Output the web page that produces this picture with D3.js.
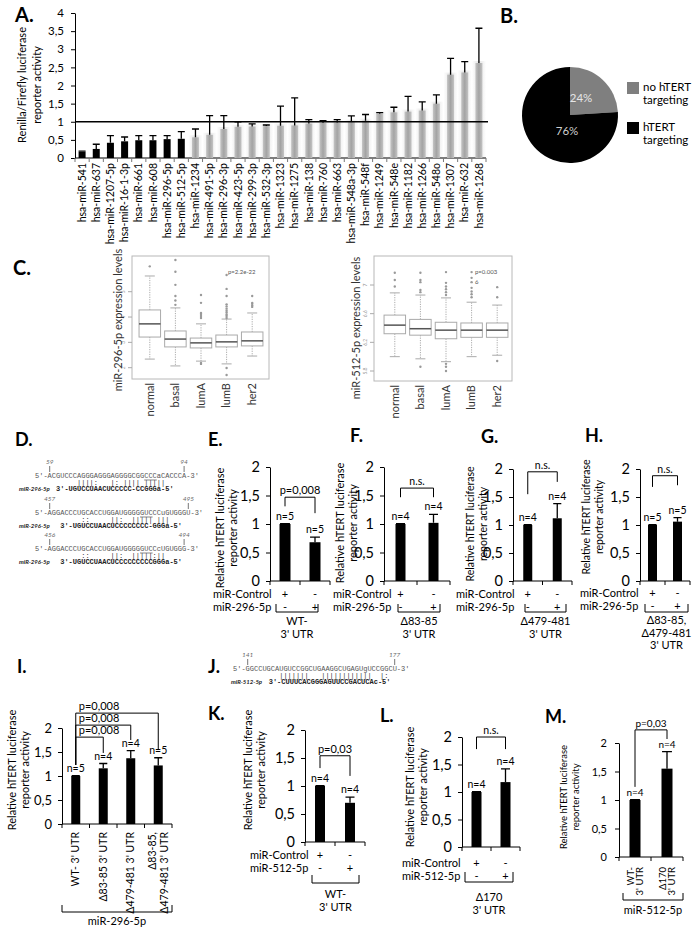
<!DOCTYPE html>
<html>
<head>
<meta charset="utf-8">
<script src="https://cdn.jsdelivr.net/npm/d3@7"></script>
<style>
  body { margin: 0; background: #fff; overflow: hidden; }
  svg { display: block; }
</style>
</head>
<body>
<svg id="fig" width="700" height="927"></svg>
<script>
// ---------- data ----------
const mirNames = ["hsa-miR-541", "hsa-miR-637", "hsa-miR-1207-5p", "hsa-miR-16-1-3p", "hsa-miR-661", "hsa-miR-608",
  "hsa-miR-296-5p", "hsa-miR-512-5p", "hsa-miR-1234", "hsa-miR-491-5p", "hsa-miR-296-3p", "hsa-miR-423-5p",
  "hsa-miR-299-3p", "hsa-miR-532-3p", "hsa-miR-1323", "hsa-miR-1275", "hsa-miR-138", "hsa-miR-760", "hsa-miR-663",
  "hsa-miR-548a-3p", "hsa-miR-548f", "hsa-miR-1249", "hsa-miR-548e", "hsa-miR-1182", "hsa-miR-1266",
  "hsa-miR-548o", "hsa-miR-1307", "hsa-miR-632", "hsa-miR-1268"];
const mirActivity = [0.17, 0.25, 0.42, 0.46, 0.49, 0.49, 0.52, 0.53, 0.57, 0.64, 0.8, 0.86, 0.87, 0.88, 0.89, 0.9,
  0.95, 0.97, 0.98, 1.0, 1.03, 1.22, 1.26, 1.28, 1.31, 1.5, 2.3, 2.36, 2.62];
const mirError = [0.02, 0.13, 0.2, 0.12, 0.13, 0.13, 0.1, 0.2, 0.23, 0.53, 0.37, 0.14, 0.07, 0.03, 0.54, 0.76,
  0.11, 0.06, 0.08, 0.16, 0.17, 0.03, 0.14, 0.42, 0.24, 0.24, 0.45, 0.3, 0.96];
const mirTargeting = ["hsa-miR-541", "hsa-miR-637", "hsa-miR-1207-5p", "hsa-miR-16-1-3p", "hsa-miR-661",
  "hsa-miR-608", "hsa-miR-296-5p", "hsa-miR-512-5p"];
const aTicks = [0, 0.5, 1, 1.5, 2, 2.5, 3, 3.5, 4];

const pieLabels = [["no hTERT", "targeting"], ["hTERT", "targeting"]];
const pieValues = [24, 76];

const subtypes = ["normal", "basal", "lumA", "lumB", "her2"];
// [lower whisker, q1, median, q3, upper whisker]
const box296 = [[2.34, 3.21, 3.73, 4.28, 5.62], [2.07, 2.82, 3.13, 3.45, 4.36], [2.26, 2.78, 2.98, 3.17, 3.73],
  [2.15, 2.82, 3.02, 3.29, 3.92], [2.46, 2.86, 3.06, 3.41, 4.16]];
const out296 = [[6.0], [4.48, 4.65, 4.83, 5.27, 5.79, 6.25], [3.96, 4.04, 4.12, 4.16, 4.56, 4.87, 2.19, 2.15],
  [3.96, 4.04, 4.1, 4.18, 4.25, 4.33, 4.42, 4.5, 4.83, 5.11, 5.66, 1.99, 1.71], [4.4, 4.46, 4.52, 4.56, 4.83]];
const ticks296 = [2, 3, 4, 5];
const box512 = [[6.0, 6.32, 6.44, 6.58, 6.89], [5.97, 6.3, 6.39, 6.52, 6.86], [5.93, 6.25, 6.37, 6.48, 6.82],
  [6.0, 6.27, 6.37, 6.47, 6.76], [6.02, 6.27, 6.37, 6.47, 6.72]];
const out512 = [[7.17, 7.07, 6.98], [7.17, 7.07, 7.04, 6.93, 6.9, 5.86], [7.18, 7.03, 6.98, 6.94, 6.9, 6.86, 5.9, 5.86, 5.8],
  [7.18, 7.1, 7.04, 6.96, 6.91, 6.87, 6.83], [6.97, 6.83, 5.94]];
const ticks512 = [5.8, 6.2, 6.6, 7.0];
const p296 = ["p=2.2e-22"];
const p512 = ["p=0.003", "6"];

const dSites = ["5'-ACGUCCCAGGGAGGGAGGGGCGGCCCaCACCCA-3'", "5'-AGGACCCUGCACCUGGAUGGGGGUCCCuGUGGGU-3'",
  "5'-AGGACCCUGCACCUGGAUGGGGGUCCcUGUGGG-3'"];
const dPairs = ["          ||||:   |: |||| |||||", "           ::     ||:  ||||| |||", "           ::     ||:  |||||:||"];
const dMirs = ["3'-UGUCCUAACUCCCCC-CCGGGa-5'", "3'-UGUCCUAACUCCCCCCCC-GGGa-5'", "3'-UGUCCUAACUCCCCCCCCCGGGa-5'"];
const dStarts = ["59", "457", "456"];
const dEnds = ["94", "495", "494"];
const jSite = "5'-GGCCUGCAUGUCCGGCUGAAGGCUGAGUgUCCGGCU-3'";
const jPairs = "           |||||||   ||||||||||||  |:";
const jMir = "3'-CUUUCACGGGAGUUCCGACUCAc-5'";
const jNums = ["141", "177"];

const yTicks = [0, 0.5, 1, 1.5, 2];
const twoConds = ["miR-Control", "miR"];
const rowControl = ["+", "-"];
const rowMir = ["-", "+"];
const eValues = [1.0, 0.68], eErrors = [0.005, 0.09], eN = ["n=5", "n=5"], eP = "p=0,008";
const fValues = [1.0, 1.02], fErrors = [0.005, 0.15], fN = ["n=4", "n=4"], fP = "n.s.";
const gValues = [1.0, 1.12], gErrors = [0.005, 0.26], gN = ["n=4", "n=4"], gP = "n.s.";
const hValues = [1.0, 1.06], hErrors = [0.005, 0.07], hN = ["n=5", "n=5"], hP = "n.s.";
const iCats = ["WT- 3' UTR", "Δ83-85 3' UTR", "Δ479-481 3' UTR", "Δ83-85,\nΔ479-481 3' UTR"];
const iValues = [1.0, 1.16, 1.37, 1.22], iErrors = [0.005, 0.1, 0.16, 0.16], iN = ["n=5", "n=4", "n=4", "n=5"];
const iP = ["p=0,008", "p=0,008", "p=0,008"];
const kValues = [1.0, 0.7], kErrors = [0.005, 0.1], kN = ["n=4", "n=4"], kP = "p=0,03";
const lValues = [1.0, 1.18], lErrors = [0.005, 0.24], lN = ["n=4", "n=4"], lP = "n.s.";
const mCats = ["WT-\n3' UTR", "Δ170\n3' UTR"];
const mValues = [1.0, 1.55], mErrors = [0.005, 0.3], mN = ["n=4", "n=4"], mP = "p=0,03";

// ---------- setup ----------
const FONT = "Lato, 'Open Sans', sans-serif";
const MONO = "'Liberation Mono', 'DejaVu Sans Mono', monospace";
const svg = d3.select("#fig").attr("font-family", FONT);
svg.append("rect").attr("width", 700).attr("height", 927).attr("fill", "#fff");
const defs = svg.append("defs");
const comma = d => String(d).replace(".", ",");

function txt(g, x, y, s, fs, o = {}) {
  return g.append("text").attr("x", x).attr("y", y).text(s)
    .attr("font-size", fs)
    .attr("text-anchor", o.anchor || "start")
    .attr("fill", o.fill || "#000")
    .attr("font-weight", o.bold ? 700 : null)
    .attr("font-style", o.italic ? "italic" : null);
}
function vtxt(g, x, y, s, fs, o = {}) {
  return g.append("text").attr("transform", `translate(${x},${y}) rotate(-90)`)
    .attr("dy", "0.35em").text(s)
    .attr("font-size", fs)
    .attr("text-anchor", o.anchor || "middle")
    .attr("fill", o.fill || "#000");
}
function letter(s, x, y, fs) {
  txt(svg, x, y, s, fs, { bold: true });
}

// ---------- A ----------
const gA = svg.append("g");
const xA = d3.scaleBand().domain(mirNames).range([75, 486]);
const yA = d3.scaleLinear().domain([0, 4]).range([158, 13]);

const shade = defs.append("linearGradient").attr("id", "shade");
shade.append("stop").attr("offset", 0).attr("stop-color", "#fff");
shade.append("stop").attr("offset", 0.5).attr("stop-color", "#e4e4e4");
shade.append("stop").attr("offset", 1).attr("stop-color", "#fff");
const grayBar = defs.append("linearGradient").attr("id", "grayBar");
grayBar.append("stop").attr("offset", 0).attr("stop-color", "#c4c4c4");
grayBar.append("stop").attr("offset", 0.5).attr("stop-color", "#a3a3a3");
grayBar.append("stop").attr("offset", 1).attr("stop-color", "#c4c4c4");

const isTarget = n => mirTargeting.includes(n);
const bwA = 7;
const cxA = n => xA(n) + xA.bandwidth() / 2;

gA.selectAll(".shade")
  .data(mirNames.filter(n => !isTarget(n)))
  .join("rect")
  .attr("x", n => xA(n))
  .attr("y", n => yA(mirActivity[mirNames.indexOf(n)]) - 2)
  .attr("width", xA.bandwidth())
  .attr("height", n => yA(0) - yA(mirActivity[mirNames.indexOf(n)]) + 2)
  .attr("fill", "url(#shade)");

gA.append("g")
  .attr("transform", "translate(75,0)")
  .call(d3.axisLeft(yA).tickValues(aTicks).tickFormat(comma).tickSize(4).tickSizeOuter(0).tickPadding(7))
  .attr("font-family", FONT).attr("font-size", 11.5)
  .call(g => g.selectAll("text").attr("fill", "#000"));

gA.append("line").attr("x1", 75).attr("x2", 486).attr("y1", yA(0)).attr("y2", yA(0)).attr("stroke", "#000");
gA.selectAll(".xt")
  .data(mirNames.map(n => xA(n)).concat([xA.range()[1]]))
  .join("line")
  .attr("x1", d => d).attr("x2", d => d).attr("y1", yA(0)).attr("y2", yA(0) + 4)
  .attr("stroke", "#777");

gA.selectAll(".bar")
  .data(mirNames)
  .join("rect")
  .attr("x", n => cxA(n) - bwA / 2)
  .attr("y", (n, i) => yA(mirActivity[i]))
  .attr("width", bwA)
  .attr("height", (n, i) => yA(0) - yA(mirActivity[i]))
  .attr("fill", n => isTarget(n) ? "#000" : "url(#grayBar)");

gA.selectAll(".err")
  .data(mirNames)
  .join("path")
  .attr("d", (n, i) => {
    const yt = yA(mirActivity[i] + mirError[i]);
    return `M${cxA(n)},${yA(mirActivity[i])}V${yt}M${cxA(n) - 3.5},${yt}H${cxA(n) + 3.5}`;
  })
  .attr("stroke", "#000").attr("stroke-width", 1.3).attr("fill", "none");

gA.append("line").attr("x1", 75).attr("x2", 488).attr("y1", yA(1)).attr("y2", yA(1))
  .attr("stroke", "#000").attr("stroke-width", 1.3);

gA.selectAll(".lab")
  .data(mirNames)
  .join("text")
  .attr("transform", n => `translate(${cxA(n)},163) rotate(-90)`)
  .attr("dy", "0.35em")
  .attr("text-anchor", "end")
  .attr("font-size", 10.5)
  .text(n => n);

vtxt(gA, 22, 85, "Renilla/Firefly  luciferase", 11);
vtxt(gA, 37, 85, "reporter activity", 11);
letter("A.", 15, 22, 20);

// ---------- B ----------
const gB = svg.append("g").attr("transform", "translate(570,115)");
const pie = d3.pie().sort(null)(pieValues);
const arc = d3.arc().innerRadius(0).outerRadius(48);
const pieColors = ["#7f7f7f", "#000"];
gB.selectAll("path").data(pie).join("path").attr("d", arc).attr("fill", (d, i) => pieColors[i]);
const pieText = [[11, -13], [-3, 20]];
gB.selectAll(".pt").data(pie).join("text")
  .attr("x", (d, i) => pieText[i][0]).attr("y", (d, i) => pieText[i][1])
  .attr("text-anchor", "middle").attr("font-size", 11.5)
  .attr("fill", (d, i) => i === 0 ? "#e6e6e6" : "#cfcfcf")
  .text(d => d.data + "%");
pieLabels.forEach((lines, i) => {
  const y0 = 82 + i * 40;
  svg.append("rect").attr("x", 627).attr("y", y0).attr("width", 12).attr("height", 12).attr("fill", pieColors[i]);
  lines.forEach((l, j) => txt(svg, 643, y0 + 9 + j * 13, l, 11.5));
});
letter("B.", 500, 23, 20);

// ---------- C ----------
function boxPanel(cfg, stats, outs, ticks, pText) {
  const g = svg.append("g");
  const x = d3.scaleBand().domain(subtypes).range(cfg.xr);
  const y = d3.scaleLinear().domain([ticks[0], ticks[ticks.length - 1]]).range(cfg.yr);
  g.append("rect").attr("x", cfg.frame[0]).attr("y", cfg.frame[1])
    .attr("width", cfg.frame[2] - cfg.frame[0]).attr("height", cfg.frame[3] - cfg.frame[1])
    .attr("fill", "none").attr("stroke", "#b8b8b8");
  g.selectAll(".tk").data(ticks).join("line")
    .attr("x1", cfg.frame[0] - 4).attr("x2", cfg.frame[0]).attr("y1", d => y(d)).attr("y2", d => y(d))
    .attr("stroke", "#aaa");
  g.selectAll(".tl").data(ticks).join("text")
    .attr("transform", d => `translate(${cfg.frame[0] - 7},${y(d)}) rotate(-90)`)
    .attr("text-anchor", "middle").attr("font-size", 5).attr("fill", "#999")
    .text(d => String(d));
  const bw = x.bandwidth() * 0.84;
  subtypes.forEach((s, i) => {
    const cx = x(s) + x.bandwidth() / 2;
    const [lo, q1, md, q3, hi] = stats[i];
    g.append("path").attr("d", `M${cx},${y(q3)}V${y(hi)}M${cx},${y(q1)}V${y(lo)}`)
      .attr("stroke", "#aaa").attr("stroke-dasharray", "1.2,1.2").attr("fill", "none");
    g.append("path").attr("d", `M${cx - 5},${y(hi)}H${cx + 5}M${cx - 5},${y(lo)}H${cx + 5}`)
      .attr("stroke", "#aaa").attr("fill", "none");
    g.append("rect").attr("x", cx - bw / 2).attr("y", y(q3)).attr("width", bw).attr("height", y(q1) - y(q3))
      .attr("fill", "#fff").attr("stroke", "#aaa");
    g.append("line").attr("x1", cx - bw / 2).attr("x2", cx + bw / 2).attr("y1", y(md)).attr("y2", y(md))
      .attr("stroke", "#555").attr("stroke-width", 1.5);
    g.selectAll(null).data(outs[i]).join("circle")
      .attr("cx", cx).attr("cy", d => y(d)).attr("r", 1.2).attr("fill", "#999");
    g.append("text").attr("transform", `translate(${cx},${cfg.frame[3] + 4}) rotate(-90)`)
      .attr("dy", "0.35em").attr("text-anchor", "end").attr("font-size", 11).attr("fill", "#333").text(s);
  });
  pText.forEach((t, j) => txt(g, cfg.pX, 274 + j * 10, t, 6, { fill: "#555" }));
  vtxt(g, cfg.labX, cfg.labY, cfg.label, 11, { fill: "#333" });
}
boxPanel({ xr: [137, 265], yr: [367.7, 291.7], frame: [132, 256, 269, 379], pX: 228, labX: 118, labY: 320,
  label: "miR-296-5p expression levels" }, box296, out296, ticks296, p296);
boxPanel({ xr: [382, 510], yr: [371, 285], frame: [374, 256, 512, 381], pX: 475, labX: 356, labY: 328,
  label: "miR-512-5p expression levels" }, box512, out512, ticks512, p512);
letter("C.", 13, 275, 20);

// ---------- D / J sequences ----------
const CW = 4.2;
function seqBlock(x0, yNum, site, pairs, mir, mirOffset, nums, label, labelX) {
  const g = svg.append("g");
  const last = site.length - 4;
  [[3, nums[0]], [last, nums[1]]].forEach(([idx, n]) => {
    const cx = x0 + idx * CW + CW / 2;
    txt(g, cx, yNum, n, 6.5, { anchor: "middle", fill: "#666", italic: true });
    g.append("line").attr("x1", cx).attr("x2", cx).attr("y1", yNum + 2).attr("y2", yNum + 8).attr("stroke", "#777");
  });
  const mono = (y, s, o) => txt(g, x0, y, s, 7, o).attr("font-family", MONO).style("white-space", "pre");
  mono(yNum + 14, site, { fill: "#555" });
  mono(yNum + 21, pairs, { fill: "#333" });
  txt(g, x0 + mirOffset * CW, yNum + 27, mir, 7, { bold: true, fill: "#222" })
    .attr("font-family", MONO).style("white-space", "pre");
  if (label) txt(g, labelX, yNum + 27, label, 6, { bold: true, italic: true, fill: "#222" });
  return g;
}
const dLayout = [{ y: 464, off: 5, ul: [26, 29] }, { y: 501, off: 6, ul: [25, 28] }, { y: 537, off: 6, ul: [25, 28] }];
dSites.forEach((s, i) => {
  const g = seqBlock(35, dLayout[i].y, s, dPairs[i], dMirs[i], dLayout[i].off, [dStarts[i], dEnds[i]], "miR-296-5p", 19);
  g.append("line").attr("x1", 35 + dLayout[i].ul[0] * CW).attr("x2", 35 + dLayout[i].ul[1] * CW)
    .attr("y1", dLayout[i].y + 16).attr("y2", dLayout[i].y + 16).attr("stroke", "#555").attr("stroke-width", 0.7);
});
letter("D.", 15, 446, 18);
const gJ = seqBlock(233, 657, jSite, jPairs, jMir, 8.5, jNums, "", 0);
txt(gJ, 231, 684, "miR-512-5p", 6, { bold: true, italic: true, fill: "#222" });
letter("J.", 208, 673, 18);

// ---------- bar panels ----------
function barPanel(p) {
  const g = svg.append("g");
  const x = d3.scaleBand().domain(p.cats).range([p.x0, p.x1]);
  const y = d3.scaleLinear().domain([0, 2]).range([p.y0, p.y2]);
  const cx = i => x(p.cats[i]) + x.bandwidth() / 2;
  g.append("g").attr("transform", `translate(${p.x0},0)`)
    .call(d3.axisLeft(y).tickValues(yTicks).tickFormat(comma).tickSize(4).tickSizeOuter(0).tickPadding(p.pad || 6))
    .attr("font-family", FONT).attr("font-size", p.tfs)
    .call(a => a.selectAll("text").attr("fill", "#000"));
  g.append("line").attr("x1", p.x0).attr("x2", p.x1).attr("y1", p.y0).attr("y2", p.y0).attr("stroke", "#000");
  g.selectAll(".xt").data(p.cats.map(c => x(c)).concat([p.x1])).join("line")
    .attr("x1", d => d).attr("x2", d => d).attr("y1", p.y0).attr("y2", p.y0 + 4).attr("stroke", "#000");
  g.selectAll(".bar").data(p.values).join("rect")
    .attr("x", (d, i) => cx(i) - p.bw / 2).attr("y", d => y(d))
    .attr("width", p.bw).attr("height", d => p.y0 - y(d)).attr("fill", "#000");
  g.selectAll(".err").data(p.values).join("path")
    .attr("d", (d, i) => {
      const yt = y(d + p.errors[i]);
      return `M${cx(i)},${y(d)}V${yt}M${cx(i) - p.bw * 0.45},${yt}H${cx(i) + p.bw * 0.45}`;
    })
    .attr("stroke", "#000").attr("stroke-width", 1.3).attr("fill", "none");
  g.selectAll(".n").data(p.nLabels).join("text")
    .attr("x", (d, i) => cx(i)).attr("y", (d, i) => y(p.values[i] + p.errors[i]) - 4)
    .attr("text-anchor", "middle").attr("font-size", p.nfs).text(d => d);
  (p.brackets || []).forEach(b => {
    g.append("path")
      .attr("d", `M${cx(b.a)},${y(b.aEnd)}V${y(b.top)}H${cx(b.b)}V${y(b.bEnd)}`)
      .attr("stroke", "#000").attr("fill", "none");
    const tx = b.left ? cx(b.a) + 3 : (cx(b.a) + cx(b.b)) / 2;
    txt(g, tx, y(b.top) - 3, b.label, p.pfs, { anchor: b.left ? "start" : "middle" });
  });
  p.ylab.forEach((l, j) => vtxt(g, p.ylx + j * (p.ygap || 13), p.yly, l, p.yfs || 11));
  if (p.rows) {
    p.rows.forEach((r, j) => {
      const yy = p.rowY + j * 13;
      txt(g, p.rowX, yy, r.label, 11);
      r.marks.forEach((m, i) => txt(g, cx(i), yy, m, 11, { anchor: "middle" }));
    });
  }
  if (p.under) {
    const u = p.under;
    g.append("path").attr("d", `M${u.x[0]},${u.y[0]}V${u.y[1]}H${u.x[1]}V${u.y[0]}`)
      .attr("stroke", "#000").attr("fill", "none");
    u.lines.forEach((l, j) => txt(g, (u.x[0] + u.x[1]) / 2 + (u.dx || 0), u.ty + j * 12.5, l, 11, { anchor: "middle" }));
  }
  return { g, x, y, cx };
}
const ylab = ["Relative hTERT luciferase", "reporter activity"];
const rowsFor = mir => [{ label: "miR-Control", marks: rowControl }, { label: mir, marks: rowMir }];

barPanel({ cats: twoConds, values: eValues, errors: eErrors, nLabels: eN, x0: 270, x1: 330, y0: 581, y2: 467,
  bw: 11, tfs: 14.5, nfs: 10.5, pfs: 11, ylab, ylx: 220, yly: 528,
  brackets: [{ a: 0, b: 1, top: 1.47, aEnd: 1.31, bEnd: 1.19, label: eP }],
  rows: rowsFor("miR-296-5p"), rowX: 213, rowY: 598,
  under: { x: [276, 318], y: [604, 612], lines: ["WT-", "3' UTR"], ty: 625 } });
letter("E.", 208, 446, 18);

barPanel({ cats: twoConds, values: fValues, errors: fErrors, nLabels: fN, x0: 384, x1: 450, y0: 581, y2: 467,
  bw: 10, tfs: 14.5, nfs: 10.5, pfs: 10.5, ylab, ylx: 340, yly: 523,
  brackets: [{ a: 0, b: 1, top: 1.63, aEnd: 1.47, bEnd: 1.47, label: fP }],
  rows: rowsFor("miR-296-5p"), rowX: 333, rowY: 598,
  under: { x: [398, 440], y: [604, 612], lines: ["Δ83-85", "3' UTR"], ty: 625 } });
letter("F.", 350, 442, 18);

barPanel({ cats: twoConds, values: gValues, errors: gErrors, nLabels: gN, x0: 513, x1: 572, y0: 581, y2: 469,
  bw: 9, tfs: 14.5, nfs: 10.5, pfs: 10.5, ylab, ylx: 470, yly: 524, yfs: 10.5,
  brackets: [{ a: 0, b: 1, top: 1.95, aEnd: 1.55, bEnd: 1.77, label: gP }],
  rows: rowsFor("miR-296-5p"), rowX: 456, rowY: 598,
  under: { x: [525, 566], y: [604, 612], lines: ["Δ479-481", "3' UTR"], ty: 625 } });
letter("G.", 481, 443, 18);

barPanel({ cats: twoConds, values: hValues, errors: hErrors, nLabels: hN, x0: 640, x1: 690, y0: 581, y2: 469,
  bw: 9, tfs: 14.5, nfs: 10.5, pfs: 10.5, ylab, ylx: 586, yly: 517, yfs: 10.5,
  brackets: [{ a: 0, b: 1, top: 1.88, aEnd: 1.68, bEnd: 1.71, label: hP }],
  rows: rowsFor("miR-296-5p"), rowX: 580, rowY: 597,
  under: { x: [645, 688], y: [604, 612], lines: ["Δ83-85,", "Δ479-481", "3' UTR"], ty: 624 } });
letter("H.", 585, 442, 18);

const pI = barPanel({ cats: iCats, values: iValues, errors: iErrors, nLabels: iN, x0: 62, x1: 172, y0: 824, y2: 728,
  bw: 9, tfs: 13, nfs: 10.5, pfs: 11, ylab, ylx: 12, yly: 770,
  brackets: [
    { a: 0, b: 3, top: 2.31, aEnd: 1.23, bEnd: 1.56, label: iP[0], left: true },
    { a: 0, b: 2, top: 2.06, aEnd: 1.23, bEnd: 1.75, label: iP[1], left: true },
    { a: 0, b: 1, top: 1.81, aEnd: 1.23, bEnd: 1.48, label: iP[2], left: true }],
  under: { x: [62, 172], y: [905, 912], lines: ["miR-296-5p"], ty: 925 } });
iCats.forEach((c, i) => {
  const lines = c.split("\n");
  lines.forEach((l, j) => {
    const off = (j - (lines.length - 1) / 2) * 12;
    pI.g.append("text").attr("transform", `translate(${pI.cx(i) + off},832) rotate(-90)`)
      .attr("dy", "0.35em").attr("text-anchor", "end").attr("font-size", 10.5).text(l);
  });
});
letter("I.", 17, 673, 18);

barPanel({ cats: twoConds, values: kValues, errors: kErrors, nLabels: kN, x0: 305, x1: 365, y0: 842, y2: 730,
  bw: 10, tfs: 14.5, nfs: 10.5, pfs: 11, ylab, ylx: 248, yly: 770,
  brackets: [{ a: 0, b: 1, top: 1.54, aEnd: 1.32, bEnd: 1.18, label: kP }],
  rows: rowsFor("miR-512-5p"), rowX: 250, rowY: 859,
  under: { x: [312, 359], y: [875, 883], lines: ["WT-", "3' UTR"], ty: 898 } });
letter("K.", 208, 720, 18);

barPanel({ cats: twoConds, values: lValues, errors: lErrors, nLabels: lN, x0: 462, x1: 520, y0: 847, y2: 737,
  bw: 10, tfs: 14.5, nfs: 10.5, pfs: 10.5, ylab, ylx: 410, yly: 787,
  brackets: [{ a: 0, b: 1, top: 2.0, aEnd: 1.78, bEnd: 1.78, label: lP }],
  rows: rowsFor("miR-512-5p"), rowX: 402, rowY: 867,
  under: { x: [465, 513], y: [872, 882], lines: ["Δ170", "3' UTR"], ty: 901 } });
letter("L.", 380, 722, 18);

const pM = barPanel({ cats: mCats, values: mValues, errors: mErrors, nLabels: mN, x0: 619, x1: 683, y0: 857, y2: 743,
  bw: 11, tfs: 11, nfs: 10, pfs: 10, ylab, ylx: 564, yly: 797, yfs: 9.5, ygap: 12, pad: 8,
  brackets: [{ a: 0, b: 1, top: 2.23, aEnd: 1.23, bEnd: 2.07, label: mP }],
  under: { x: [623, 683], y: [893, 900], lines: ["miR-512-5p"], ty: 914 } });
mCats.forEach((c, i) => {
  const lines = c.split("\n");
  lines.forEach((l, j) => {
    const off = (j - (lines.length - 1) / 2) * 9;
    pM.g.append("text").attr("transform", `translate(${pM.cx(i) + off},867) rotate(-90)`)
      .attr("dy", "0.35em").attr("text-anchor", "end").attr("font-size", 9.5).text(l);
  });
});
letter("M.", 545, 723, 18);
</script>
</body>
</html>
